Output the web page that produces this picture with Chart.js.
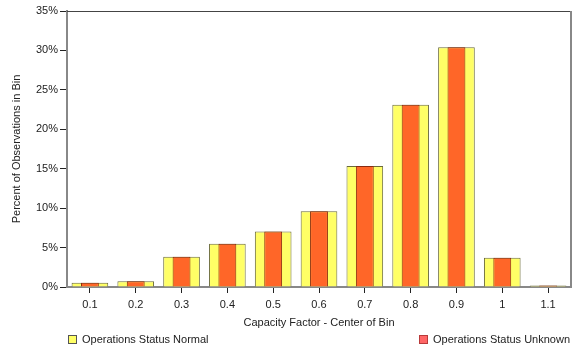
<!DOCTYPE html>
<html>
<head>
<meta charset="utf-8">
<script src="https://cdn.jsdelivr.net/npm/chart.js@4"></script>
<style>
    html, body { margin: 0; padding: 0; background: #fff; }
    #wrap { position: relative; width: 575px; height: 347px; }
    .leg { position: absolute; top: 332px; font: 11px "Liberation Sans", Arial, sans-serif; color: #222; white-space: nowrap; line-height: 14px; }
    .leg span.box { display: inline-block; width: 7px; height: 7px; border: 1px solid #444; vertical-align: -1px; margin-right: 5px; }
</style>
</head>
<body>
<div id="wrap">
    <canvas id="grafico" width="575" height="347"></canvas>
    <div id="legenda"></div>
</div>
<script>
// ===== Dados =====
const categorias = ['0.1', '0.2', '0.3', '0.4', '0.5', '0.6', '0.7', '0.8', '0.9', '1', '1.1'];
const valoresNormal = [0.55, 0.72, 3.85, 5.5, 7.05, 9.6, 15.35, 23.1, 30.4, 3.7, 0.2];
const valoresUnknown = [0.55, 0.72, 3.85, 5.5, 7.05, 9.6, 15.35, 23.1, 30.4, 3.7, 0.2];
const ticksY = [0, 5, 10, 15, 20, 25, 30, 35];

const fonte = { family: '"Liberation Sans", Arial, sans-serif', size: 11 };

// moldura em volta da area do grafico (topo e direita)
const moldura = {
    id: 'moldura',
    afterDraw(chart) {
        const { ctx, chartArea: a } = chart;
        ctx.save();
        ctx.strokeStyle = '#444';
        ctx.lineWidth = 1;
        ctx.beginPath();
        ctx.moveTo(a.left, a.top + 0.5);
        ctx.lineTo(a.right, a.top + 0.5);
        ctx.stroke();
        ctx.strokeStyle = '#888';
        ctx.lineWidth = 2;
        ctx.beginPath();
        ctx.moveTo(a.right, a.top);
        ctx.lineTo(a.right, a.bottom);
        ctx.stroke();
        ctx.restore();
    }
};

const grafico = new Chart(document.getElementById('grafico').getContext('2d'), {
    type: 'bar',
    data: {
        labels: categorias,
        datasets: [
            { label: 'Operations Status Normal', data: valoresNormal, backgroundColor: '#ffff66', borderColor: '#6b6b3a', borderWidth: 1, barPercentage: 0.8, categoryPercentage: 1, grouped: false, order: 2, legendColor: '#ffff66', legendBorder: '#555' },
            { label: 'Operations Status Unknown', data: valoresUnknown, backgroundColor: '#ff6628', borderColor: '#8a2a10', borderWidth: 1, barPercentage: 0.39, categoryPercentage: 1, grouped: false, order: 1, legendColor: '#ff6666', legendBorder: '#b83a3a' }
        ]
    },
    options: {
        responsive: false,
        animation: false,
        layout: { padding: { top: 11, right: 4, bottom: 13, left: 0 } },
        plugins: { legend: { display: false }, tooltip: { enabled: false } },
        scales: {
            x: {
                grid: { display: true, offset: false, drawOnChartArea: false, drawTicks: true, tickLength: 6, color: '#222' },
                border: { color: '#888', width: 2 },
                ticks: { color: '#222', font: fonte, padding: 5, maxRotation: 0 },
                title: { display: true, text: 'Capacity Factor - Center of Bin', color: '#222', font: fonte, padding: { top: 4, bottom: 4 } },
                afterFit: s => { s.height = 47; }
            },
            y: {
                min: 0, max: 35,
                afterBuildTicks: s => { s.ticks = ticksY.map(v => ({ value: v })); },
                grid: { display: true, drawOnChartArea: false, drawTicks: true, tickLength: 7, color: '#222' },
                border: { color: '#888', width: 2 },
                ticks: { color: '#222', font: fonte, padding: 2, callback: v => v + '%' },
                title: { display: true, text: 'Percent of Observations in Bin', color: '#222', font: fonte, padding: { top: 10, bottom: 0 } },
                afterFit: s => { s.width = 67; }
            }
        }
    },
    plugins: [moldura]
});

// ===== Legenda (um item em cada ponta) =====
const legenda = document.getElementById('legenda');
const posicoes = [{ left: '68px' }, { right: '5px' }];
grafico.data.datasets.forEach((ds, i) => {
    const item = document.createElement('div');
    item.className = 'leg';
    Object.assign(item.style, posicoes[i]);
    item.innerHTML = '<span class="box" style="background:' + ds.legendColor + ';border-color:' + ds.legendBorder + '"></span>' + ds.label;
    legenda.appendChild(item);
});
</script>
</body>
</html>
